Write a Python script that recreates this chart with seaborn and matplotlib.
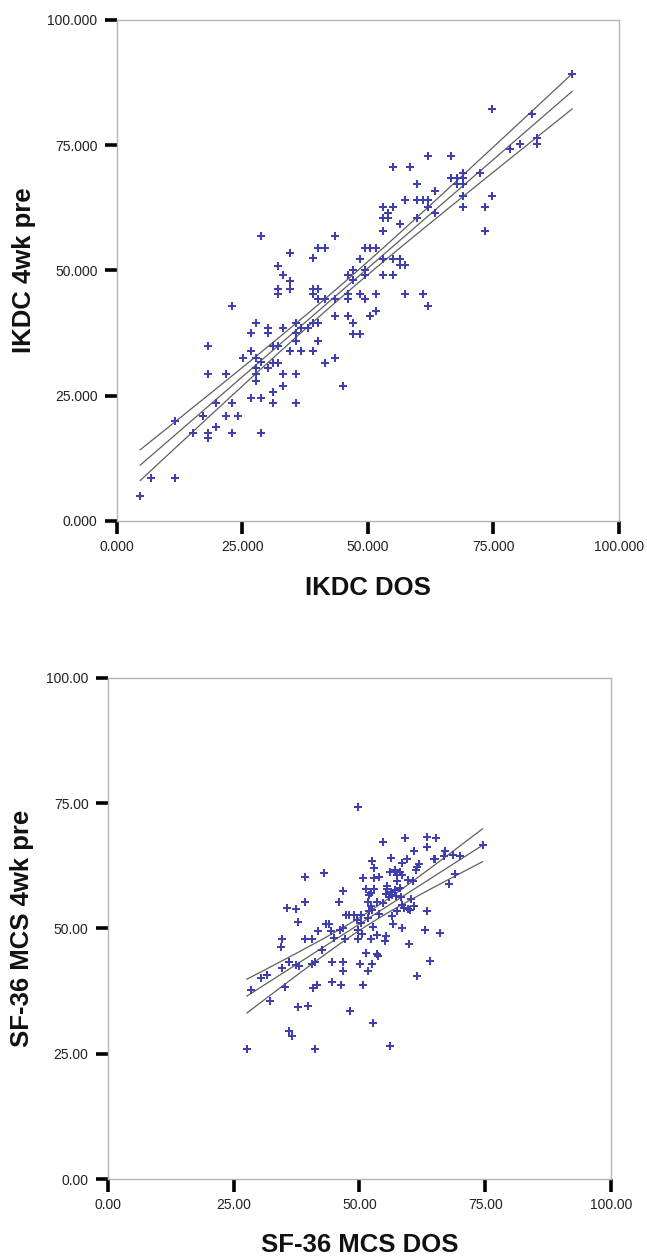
import numpy as np
import pandas as pd
import matplotlib
matplotlib.use("Agg")
import matplotlib.pyplot as plt
import seaborn as sns
from matplotlib.ticker import FormatStrFormatter

# ---------------- data: top panel (IKDC) ----------------
ikdc_dos = [
    4.6, 6.8, 11.6, 11.6, 15.1, 17.1, 18.1, 18.1, 19.7, 19.7,
    18.1, 18.1, 21.7, 21.7, 23.0, 23.0, 23.0, 24.2, 25.2, 26.6,
    26.6, 26.6, 27.6, 27.6, 27.6, 27.6, 27.6, 28.6, 28.6, 28.6,
    28.6, 30.0, 30.0, 30.0, 31.0, 31.0, 31.0, 31.0, 32.1, 32.1,
    32.1, 32.1, 32.1, 33.1, 33.1, 33.1, 33.1, 34.5, 34.5, 34.5,
    34.5, 35.6, 35.6, 35.6, 35.6, 35.6, 36.6, 36.6, 38.0, 39.0,
    39.0, 39.0, 39.0, 39.0, 40.0, 40.0, 40.0, 40.0, 40.0, 41.4,
    41.4, 41.4, 43.5, 43.5, 43.5, 43.5, 45.0,
    90.7, 74.8, 82.7, 78.2, 80.3, 83.7, 83.7, 74.8, 73.3, 73.3,
    72.3, 68.9, 68.9, 68.9, 67.8, 67.8, 66.5, 66.5, 68.9, 68.9,
    61.9, 63.3, 63.3, 61.9, 61.9, 60.9, 59.8, 59.8, 59.8, 58.4,
    55.0, 57.4, 55.0, 52.9, 53.9, 52.9, 53.9, 52.9, 56.4, 49.5,
    50.5, 51.5, 48.4, 52.9, 55.0, 56.4, 56.4, 57.4, 49.5, 47.0,
    46.0, 49.5, 52.9, 55.0, 47.0, 46.0, 46.0, 48.4, 49.5, 51.5,
    57.4, 60.9, 61.9, 46.0, 50.5, 51.5, 47.0, 47.0, 48.4,
]
ikdc_4wk_pre = [
    5.0, 8.5, 8.5, 20.0, 17.6, 21.0, 17.6, 16.5, 23.5, 18.8,
    29.3, 34.9, 29.3, 21.0, 23.5, 17.6, 43.0, 21.0, 32.5, 37.5,
    33.9, 24.6, 39.5, 32.5, 30.5, 29.3, 28.0, 31.7, 24.6, 17.6,
    56.9, 38.5, 37.5, 30.5, 34.9, 31.5, 25.8, 23.5, 34.9, 31.5,
    50.9, 46.4, 45.4, 38.5, 29.3, 27.0, 49.0, 53.4, 47.9, 46.4,
    33.9, 39.5, 37.5, 36.0, 29.3, 23.5, 38.5, 33.9, 38.5, 52.4,
    46.4, 45.4, 39.5, 33.9, 54.4, 46.4, 44.4, 39.5, 36.0, 54.4,
    44.4, 31.5, 56.9, 40.9, 32.5, 44.4, 26.9,
    89.2, 82.3, 81.2, 74.3, 75.3, 76.4, 75.3, 64.9, 62.7, 57.9,
    69.4, 69.4, 68.4, 67.3, 68.4, 67.3, 68.4, 72.9, 64.9, 62.7,
    72.9, 65.9, 61.4, 64.1, 62.7, 64.1, 64.1, 67.3, 60.4, 70.7,
    70.7, 64.1, 62.7, 62.7, 61.4, 60.4, 60.4, 57.9, 59.3, 54.4,
    54.4, 54.4, 52.3, 52.3, 52.3, 52.3, 51.0, 51.0, 50.1, 50.0,
    49.0, 49.0, 49.0, 49.0, 48.0, 45.4, 44.4, 45.4, 44.4, 45.4,
    45.4, 45.4, 43.0, 40.9, 40.9, 41.9, 39.5, 37.4, 37.4,
]

# ---------------- data: bottom panel (SF-36 MCS) ----------------
mcs_dos = [
    27.6, 28.4, 30.5, 31.7, 32.2, 34.5, 35.2, 36.0, 34.3, 34.5,
    35.6, 37.4, 37.7, 39.1, 39.1, 39.1, 40.5, 37.4, 38.0, 35.9,
    36.6, 37.7, 39.8, 40.8, 41.5, 40.5, 41.2, 41.2, 42.5, 41.8,
    42.9, 43.3, 43.9, 44.3, 45.0, 44.6, 44.6, 46.0, 46.8, 46.1,
    46.7, 47.1, 46.8, 46.8, 46.4, 48.1, 47.3, 48.0, 48.9, 49.6,
    49.8, 49.8, 50.1,
    74.5, 68.9, 67.7, 69.9, 68.5, 67.1, 66.8, 64.8, 65.1, 65.3,
    63.4, 63.4, 60.9, 59.1, 54.7, 56.3, 52.5, 52.9, 58.4, 59.5,
    61.8, 61.5, 61.2, 56.1, 57.1, 58.1, 57.4, 58.4, 53.9, 50.8,
    52.9, 57.4, 59.7, 60.6, 55.4, 51.2, 52.9, 52.2, 51.9, 55.4,
    56.2, 57.1, 56.4, 55.9, 57.3, 55.2, 58.1, 58.3, 60.2, 51.6,
    53.5, 54.6, 52.2, 52.5, 51.9, 58.4, 58.8, 59.7, 60.0, 60.8,
    63.4, 57.5, 56.4, 53.9, 50.4, 51.6, 56.7, 52.6, 50.3, 50.6,
    53.5, 55.3, 55.1, 58.4, 63.0, 66.0, 59.8, 52.2, 51.2, 53.5,
    53.7, 52.5, 51.6, 64.0, 61.5, 50.8, 56.1, 52.6, 49.8,
]
mcs_4wk_pre = [
    25.9, 37.7, 40.1, 40.7, 35.5, 42.2, 38.4, 43.3, 46.4, 47.9,
    54.0, 53.8, 51.3, 60.3, 55.2, 47.9, 47.9, 42.7, 42.5, 29.5,
    28.5, 34.3, 34.6, 38.1, 38.7, 42.9, 43.3, 25.9, 45.7, 49.6,
    61.0, 50.9, 50.8, 49.6, 48.2, 43.3, 39.4, 55.2, 57.5, 49.7,
    50.0, 47.9, 43.3, 41.5, 38.7, 33.5, 52.7, 52.7, 52.7, 51.7,
    49.7, 47.9, 42.9,
    66.6, 60.8, 58.9, 64.5, 64.7, 65.5, 64.5, 63.8, 63.8, 68.0,
    68.3, 66.2, 65.5, 68.0, 67.3, 64.1, 63.5, 62.0, 63.1, 63.8,
    62.9, 62.3, 61.7, 61.3, 61.7, 61.3, 60.7, 60.7, 60.3, 60.0,
    60.0, 59.5, 59.7, 59.5, 58.5, 57.9, 57.9, 57.0, 56.6, 57.9,
    57.2, 57.7, 56.6, 56.2, 56.4, 56.8, 58.0, 56.2, 55.8, 55.3,
    55.3, 55.0, 54.4, 53.7, 53.4, 54.7, 54.0, 53.8, 53.6, 54.4,
    53.4, 53.4, 52.4, 52.8, 52.7, 52.0, 50.9, 50.2, 51.0, 49.0,
    48.8, 48.5, 47.6, 50.0, 49.7, 49.2, 47.0, 47.9, 45.2, 45.0,
    44.6, 42.9, 41.5, 43.6, 40.5, 38.7, 26.5, 31.1, 74.3,
]

tick_values = [0, 25, 50, 75, 100]

sns.set_theme(style="white")
plt.rcParams['font.family'] = ['Liberation Sans', 'DejaVu Sans']

fig = plt.figure(figsize=(6.47, 12.56), dpi=100)
ax1 = fig.add_axes([0.1808, 0.5852, 0.7759, 0.3989])
ax2 = fig.add_axes([0.1669, 0.0613, 0.7774, 0.3989])

POINT_COLOR = "#3f3fae"
LINE_COLOR = "#5f5f5f"
SPINE_COLOR = "#b5b5b5"


def panel(ax, xv, yv, xlabel, ylabel, fmt, xl_x, yl_x):
    x = np.asarray(xv, dtype=float)
    y = np.asarray(yv, dtype=float)
    df = pd.DataFrame({"x": x, "y": y})
    # OLS fit with 95% CI of the mean
    n = len(x)
    slope, intercept = np.polyfit(x, y, 1)
    xs = np.linspace(x.min(), x.max(), 120)
    yhat = intercept + slope * xs
    resid = y - (intercept + slope * x)
    s = np.sqrt(np.sum(resid ** 2) / (n - 2))
    sxx = np.sum((x - x.mean()) ** 2)
    se = s * np.sqrt(1.0 / n + (xs - x.mean()) ** 2 / sxx)
    t = 1.977
    for curve in (yhat, yhat + t * se, yhat - t * se):
        sns.lineplot(x=xs, y=curve, ax=ax, color=LINE_COLOR, linewidth=0.9,
                     zorder=2, estimator=None, sort=False)
    sns.scatterplot(data=df, x="x", y="y", ax=ax, marker="P", s=26,
                    color=POINT_COLOR, linewidth=0, zorder=3)

    ax.set_xlim(0, 100)
    ax.set_ylim(0, 100)
    ax.set_xticks(tick_values)
    ax.set_yticks(tick_values)
    ax.xaxis.set_major_formatter(FormatStrFormatter(fmt))
    ax.yaxis.set_major_formatter(FormatStrFormatter(fmt))
    ax.tick_params(axis="both", which="major", direction="out", length=9,
                   width=2.6, color="black", labelsize=10, labelcolor="#222222",
                   pad=5, bottom=True, left=True)
    for sp in ax.spines.values():
        sp.set_color(SPINE_COLOR)
        sp.set_linewidth(1.0)
        sp.set_visible(True)
    ax.set_xlabel(xlabel, fontsize=18.5, fontweight="bold", color="#111111")
    ax.set_ylabel(ylabel, fontsize=18.5, fontweight="bold", color="#111111")
    ax.xaxis.set_label_coords(0.5, xl_x)
    ax.xaxis.label.set_va("center")
    ax.yaxis.set_label_coords(yl_x, 0.5)
    ax.yaxis.label.set_va("center")
    ax.grid(False)


panel(ax1, ikdc_dos, ikdc_4wk_pre, "IKDC DOS", "IKDC 4wk pre", "%.3f",
      -0.134, -0.185)
panel(ax2, mcs_dos, mcs_4wk_pre, "SF-36 MCS DOS", "SF-36 MCS 4wk pre", "%.2f",
      -0.132, -0.171)

fig.savefig("out.png", dpi=100, facecolor="white")
